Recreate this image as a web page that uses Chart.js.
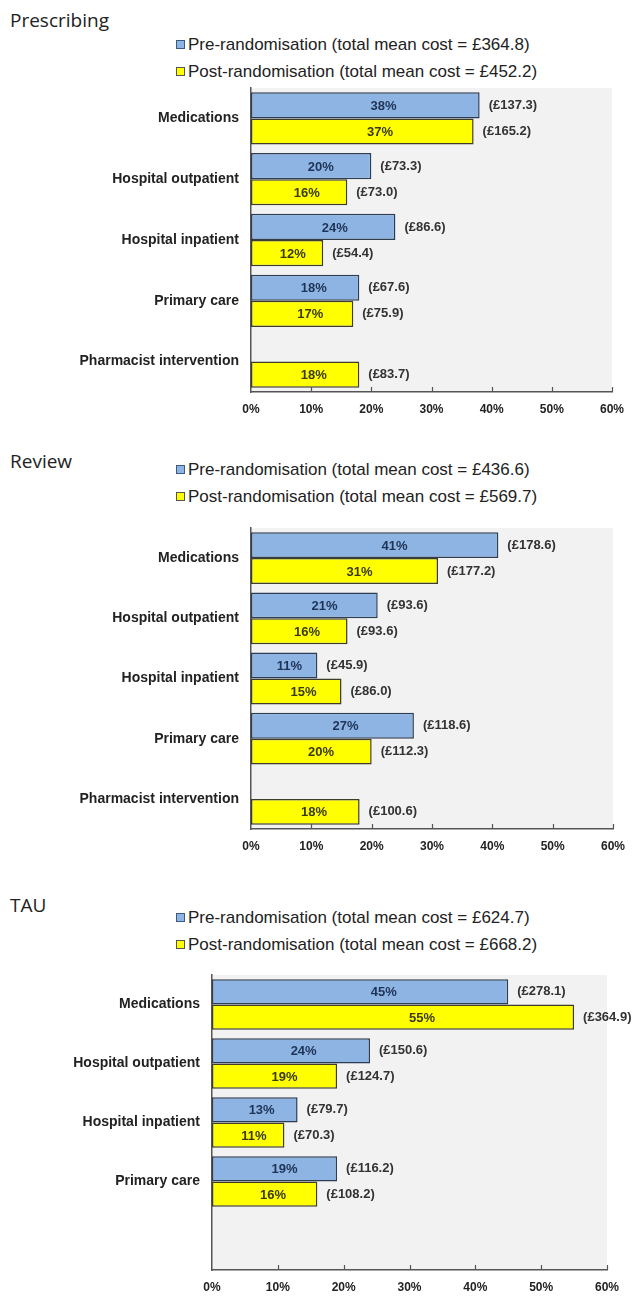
<!DOCTYPE html>
<html>
<head>
<meta charset="utf-8">
<script src="https://cdn.jsdelivr.net/npm/chart.js@4.4.0/dist/chart.umd.min.js"></script>
<style>
  body { margin: 0; background: #fff; width: 635px; height: 1300px; position: relative; overflow: hidden; }
  .title { position: absolute; left: 10px; font-family: "Open Sans", sans-serif; font-size: 19px; color: #222; line-height: 22px; }
  .legend { position: absolute; left: 176px; font-family: "Liberation Sans", Arial, sans-serif; font-size: 17px; color: #222; }
  .legend div { height: 27px; line-height: 27px; white-space: nowrap; }
  .sw { display: inline-block; width: 7px; height: 7px; border: 1px solid #333; margin-right: 3px; vertical-align: 1px; }
  canvas { position: absolute; left: 0; }
</style>
</head>
<body>
<div class="title" style="top:9px">Prescribing</div>
<div class="legend" id="leg1" style="top:31px"></div>
<canvas id="c1" width="635" height="342" style="top:80px"></canvas>

<div class="title" style="top:450px">Review</div>
<div class="legend" id="leg2" style="top:456px"></div>
<canvas id="c2" width="635" height="339" style="top:520px"></canvas>

<div class="title" style="top:894px">TAU</div>
<div class="legend" id="leg3" style="top:904px"></div>
<canvas id="c3" width="635" height="333" style="top:967px"></canvas>

<script>
// categories
const categories = ['Medications', 'Hospital outpatient', 'Hospital inpatient', 'Primary care', 'Pharmacist intervention'];
const tauCategories = ['Medications', 'Hospital outpatient', 'Hospital inpatient', 'Primary care', ''];

// share of total cost (%)
const prescribingPre = [38, 20, 24, 18, null];
const prescribingPost = [37, 16, 12, 17, 18];
const reviewPre = [41, 21, 11, 27, null];
const reviewPost = [31, 16, 15, 20, 18];
const tauPre = [45, 24, 13, 19, null];
const tauPost = [55, 19, 11, 16, null];

// mean cost (£)
const prescribingPreCost = [137.3, 73.3, 86.6, 67.6, null];
const prescribingPostCost = [165.2, 73.0, 54.4, 75.9, 83.7];
const reviewPreCost = [178.6, 93.6, 45.9, 118.6, null];
const reviewPostCost = [177.2, 93.6, 86.0, 112.3, 100.6];
const tauPreCost = [278.1, 150.6, 79.7, 116.2, null];
const tauPostCost = [364.9, 124.7, 70.3, 108.2, null];

// total mean cost [pre, post]
const prescribingTotals = [364.8, 452.2];
const reviewTotals = [436.6, 569.7];
const tauTotals = [624.7, 668.2];

const xTicks = [0, 10, 20, 30, 40, 50, 60];

const BLUE = '#8db4e2';
const YELLOW = '#ffff00';
const FONT = "'Liberation Sans', Arial, sans-serif";

function buildLegend(id, totals) {
    const el = document.getElementById(id);
    el.innerHTML =
        '<div><span class="sw" style="background:' + BLUE + ';border-color:#3b5a80"></span>Pre-randomisation (total mean cost = £' + totals[0].toFixed(1) + ')</div>' +
        '<div><span class="sw" style="background:' + YELLOW + ';border-color:#555"></span>Post-randomisation (total mean cost = £' + totals[1].toFixed(1) + ')</div>';
}

// grey plot background
const plotBg = {
    id: 'plotBg',
    beforeDraw(chart) {
        const a = chart.chartArea, ctx = chart.ctx;
        ctx.save();
        ctx.fillStyle = '#f2f2f2';
        ctx.fillRect(a.left, a.top, a.right - a.left, a.bottom - a.top);
        ctx.restore();
    }
};

// short tick marks pointing into the plot
const innerTicks = {
    id: 'innerTicks',
    afterDraw(chart) {
        const x = chart.scales.x, ctx = chart.ctx;
        ctx.save();
        ctx.strokeStyle = '#555';
        ctx.lineWidth = 1.2;
        xTicks.forEach(function(v) {
            if (v === 0) return;
            const px = Math.round(x.getPixelForValue(v)) + 0.5;
            ctx.beginPath();
            ctx.moveTo(px, x.top);
            ctx.lineTo(px, x.top - 5);
            ctx.stroke();
        });
        ctx.restore();
    }
};

// % inside bar, (£cost) after bar
const barLabels = {
    id: 'barLabels',
    afterDatasetsDraw(chart) {
        const ctx = chart.ctx;
        ctx.save();
        ctx.font = 'bold 13px ' + FONT;
        ctx.textBaseline = 'middle';
        chart.data.datasets.forEach(function(ds, i) {
            const meta = chart.getDatasetMeta(i);
            meta.data.forEach(function(bar, j) {
                const v = ds.data[j];
                if (v === null || v === undefined) return;
                const base = bar.base, end = bar.x;
                ctx.textAlign = 'center';
                ctx.fillStyle = i === 0 ? '#1f3357' : '#3a3a10';
                ctx.fillText(v + '%', base + (end - base) * 0.58, bar.y + 1);
                ctx.textAlign = 'left';
                ctx.fillStyle = '#333';
                ctx.fillText('(£' + ds.costs[j].toFixed(1) + ')', end + 9, bar.y);
            });
        });
        ctx.restore();
    }
};

function makeChart(id, labels, pre, post, preCost, postCost, left, right, labelPad) {
    const ctx = document.getElementById(id).getContext('2d');
    return new Chart(ctx, {
        type: 'bar',
        data: {
            labels: labels,
            datasets: [{
                label: 'Pre-randomisation',
                data: pre,
                costs: preCost,
                backgroundColor: BLUE,
                borderColor: '#2e3d52',
                borderWidth: 1.5,
                borderSkipped: false
            }, {
                label: 'Post-randomisation',
                data: post,
                costs: postCost,
                backgroundColor: YELLOW,
                borderColor: '#3d3d2a',
                borderWidth: 1.5,
                borderSkipped: false
            }]
        },
        options: {
            indexAxis: 'y',
            responsive: false,
            animation: false,
            events: [],
            layout: { padding: { top: 8, right: 635 - right, left: 0, bottom: 0 } },
            datasets: { bar: { categoryPercentage: 0.86, barPercentage: 1.0 } },
            scales: {
                x: {
                    min: 0,
                    max: 60,
                    afterBuildTicks: function(axis) {
                        axis.ticks = xTicks.map(function(v) { return { value: v }; });
                    },
                    afterFit: function(axis) {
                        axis.height = 30;
                        axis.paddingLeft = 0;
                        axis.paddingRight = 0;
                    },
                    grid: { display: false, drawTicks: false },
                    border: { display: true, color: '#555', width: 1.5 },
                    ticks: {
                        padding: 10,
                        color: '#222',
                        font: { family: FONT, size: 12, weight: 'bold' },
                        callback: function(v) { return v + '%'; }
                    }
                },
                y: {
                    afterFit: function(axis) {
                        axis.width = left;
                        axis.paddingTop = 0;
                        axis.paddingBottom = 0;
                    },
                    grid: { display: false, drawTicks: false },
                    border: { display: true, color: '#555', width: 1.5 },
                    ticks: {
                        padding: labelPad,
                        color: '#222',
                        autoSkip: false,
                        font: { family: FONT, size: 14, weight: 'bold' }
                    }
                }
            },
            plugins: {
                legend: { display: false },
                tooltip: { enabled: false }
            }
        },
        plugins: [plotBg, innerTicks, barLabels]
    });
}

buildLegend('leg1', prescribingTotals);
buildLegend('leg2', reviewTotals);
buildLegend('leg3', tauTotals);

makeChart('c1', categories, prescribingPre, prescribingPost, prescribingPreCost, prescribingPostCost, 251, 612, 12);
makeChart('c2', categories, reviewPre, reviewPost, reviewPreCost, reviewPostCost, 251, 613, 12);
makeChart('c3', tauCategories, tauPre, tauPost, tauPreCost, tauPostCost, 212, 607, 12);
</script>
</body>
</html>
